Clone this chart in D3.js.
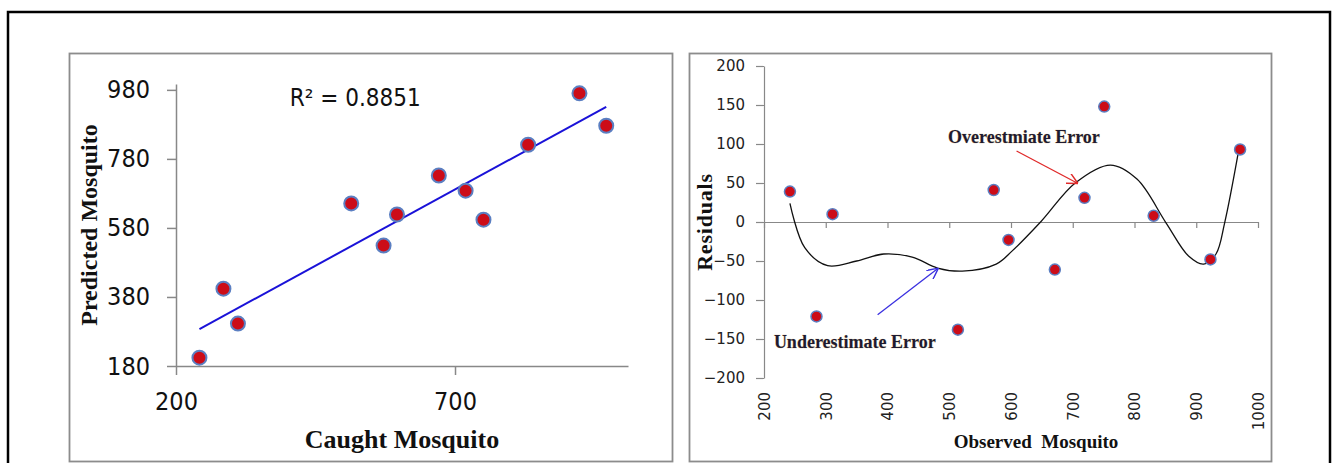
<!DOCTYPE html>
<html>
<head>
<meta charset="utf-8">
<script src="https://cdn.jsdelivr.net/npm/d3@7"></script>
<style>
  body { margin:0; background:#fff; }
  svg { display:block; }
  .axisL text { font-family:"Liberation Sans Narrow","DejaVu Sans Condensed","Liberation Sans",sans-serif; font-size:25px; fill:#111; }
  .axisL path, .axisL line { stroke:#888; stroke-width:1.5; }
  .axisR text { font-family:"DejaVu Sans",Verdana,sans-serif; font-size:15px; fill:#222; }
  .axisR path, .axisR line { stroke:#888; stroke-width:1.2; }
  .title { font-family:"Liberation Serif","Times New Roman",serif; font-weight:bold; fill:#111; }
  .note { font-family:"Liberation Serif","Times New Roman",serif; font-weight:bold; font-size:18px; fill:#1e1a30;
          stroke:rgba(190,140,40,0.45); stroke-width:0.7; paint-order:stroke; }
</style>
</head>
<body>
<script>
// observed (caught) mosquito, model prediction and residual for each site
var observed  = [242, 285, 311, 514, 572, 596, 671, 719, 751, 831, 923, 971];
var predicted = [204, 404, 303, 651, 529, 619, 732, 688, 604, 821, 970, 876];
var residual  = [39, -121, 10, -138, 41, -23, -61, 31, 148, 8, -48, 93];

// smoothed residual trend
var trendX = [242, 266, 303, 350, 394, 440, 481, 521, 576, 602, 649, 704, 761, 804, 851, 888, 912, 932, 946, 969];
var trendY = [24, -33, -56, -50, -41, -45, -59, -63, -54, -37, 1, 50, 73, 55, -1, -44, -54, -41, -1, 93];

var leftXTicks = [200, 700];
var leftYTicks = [180, 380, 580, 780, 980];
var rightXTicks = [200, 300, 400, 500, 600, 700, 800, 900, 1000];
var rightYTicks = [-200, -150, -100, -50, 0, 50, 100, 150, 200];

var W = 1333, H = 463;
var svg = d3.select('body').append('svg')
  .attr('width', W)
  .attr('height', H);

// frames
svg.append('rect').attr('x', 8).attr('y', 12).attr('width', 1322).attr('height', 470)
  .attr('fill', 'none').attr('stroke', '#000').attr('stroke-width', 2.5);
svg.append('rect').attr('x', 69.5).attr('y', 53.5).attr('width', 603).attr('height', 408)
  .attr('fill', 'none').attr('stroke', '#8c8c8c').attr('stroke-width', 1.8);
svg.append('rect').attr('x', 689.5).attr('y', 53.5).attr('width', 582).attr('height', 408)
  .attr('fill', 'none').attr('stroke', '#8c8c8c').attr('stroke-width', 1.8);

// ---------- left: predicted vs caught ----------
var xL = d3.scaleLinear().domain([200, 1010]).range([176, 628]);
var yL = d3.scaleLinear().domain([180, 997]).range([366, 84]);

svg.append('g')
  .attr('class', 'axisL')
  .attr('transform', 'translate(0,' + yL(180) + ')')
  .call(d3.axisBottom(xL).tickValues(leftXTicks).tickSize(9).tickSizeOuter(0).tickPadding(17));

svg.append('g')
  .attr('class', 'axisL')
  .attr('transform', 'translate(' + xL(200) + ',0)')
  .call(d3.axisLeft(yL).tickValues(leftYTicks).tickSize(9).tickSizeOuter(0).tickPadding(17));

// least squares fit of predicted on observed
var mx = d3.mean(observed), my = d3.mean(predicted);
var sxy = d3.sum(observed, function(d, i) { return (d - mx) * (predicted[i] - my); });
var sxx = d3.sum(observed, function(d) { return (d - mx) * (d - mx); });
var slope = sxy / sxx, icept = my - slope * mx;
var fitX = d3.extent(observed);

svg.append('line')
  .attr('x1', xL(fitX[0])).attr('y1', yL(icept + slope * fitX[0]))
  .attr('x2', xL(fitX[1])).attr('y2', yL(icept + slope * fitX[1]))
  .attr('stroke', '#1a12d8').attr('stroke-width', 2);

svg.append('g').selectAll('circle')
  .data(observed)
  .enter()
  .append('circle')
  .attr('cx', function(d) { return xL(d); })
  .attr('cy', function(d, i) { return yL(predicted[i]); })
  .attr('r', 7)
  .attr('fill', '#cc0c18')
  .attr('stroke', '#5b7fc2')
  .attr('stroke-width', 2);

svg.append('text')
  .attr('x', xL(404)).attr('y', yL(933))
  .style('font-family', '"Liberation Sans Narrow","DejaVu Sans Condensed","Liberation Sans",sans-serif')
  .style('font-size', '24px')
  .attr('fill', '#111')
  .text('R² = 0.8851');

svg.append('text')
  .attr('class', 'title')
  .attr('x', 402).attr('y', 448)
  .attr('text-anchor', 'middle')
  .style('font-size', '26px')
  .text('Caught Mosquito');

svg.append('text')
  .attr('class', 'title')
  .attr('transform', 'translate(97,225) rotate(-90)')
  .attr('text-anchor', 'middle')
  .style('font-size', '24px')
  .text('Predicted Mosquito');

// ---------- right: residuals ----------
var xR = d3.scaleLinear().domain([200, 1000]).range([764, 1258]);
var yR = d3.scaleLinear().domain([-200, 200]).range([378, 66]);

svg.append('g')
  .attr('class', 'axisR')
  .attr('transform', 'translate(' + xR(200) + ',0)')
  .call(d3.axisLeft(yR).tickValues(rightYTicks).tickSize(8).tickSizeOuter(0).tickPadding(11)
    .tickFormat(d3.format('')));

var xAxisR = svg.append('g')
  .attr('class', 'axisR')
  .attr('transform', 'translate(0,' + yR(0) + ')')
  .call(d3.axisBottom(xR).tickValues(rightXTicks).tickSize(6).tickSizeOuter(0)
    .tickFormat(d3.format('')));

xAxisR.selectAll('text')
  .attr('x', -(392 - yR(0)))
  .attr('y', 0)
  .attr('dy', '0.35em')
  .attr('text-anchor', 'end')
  .attr('transform', 'rotate(-90)');

var line = d3.line()
  .x(function(d) { return xR(d); })
  .y(function(d, i) { return yR(trendY[i]); })
  .curve(d3.curveCatmullRom.alpha(0.5));

svg.append('path')
  .attr('d', line(trendX))
  .attr('fill', 'none')
  .attr('stroke', '#111')
  .attr('stroke-width', 1.3);

svg.append('g').selectAll('circle')
  .data(observed)
  .enter()
  .append('circle')
  .attr('cx', function(d) { return xR(d); })
  .attr('cy', function(d, i) { return yR(residual[i]); })
  .attr('r', 5.5)
  .attr('fill', '#cc0c18')
  .attr('stroke', '#5b7fc2')
  .attr('stroke-width', 1.5);

// annotation arrows
var defs = svg.append('defs');
[['blue', '#3a30e0'], ['red', '#e02a2a']].forEach(function(m) {
  defs.append('marker')
    .attr('id', 'head-' + m[0])
    .attr('viewBox', '0 0 10 10')
    .attr('refX', 9).attr('refY', 5)
    .attr('markerWidth', 11).attr('markerHeight', 11)
    .attr('markerUnits', 'userSpaceOnUse')
    .attr('orient', 'auto')
    .append('path')
    .attr('d', 'M0,0 L10,5 L0,10')
    .attr('fill', 'none')
    .attr('stroke', m[1])
    .attr('stroke-width', 1.3);
});

svg.append('line')
  .attr('x1', xR(384)).attr('y1', yR(-119))
  .attr('x2', xR(481)).attr('y2', yR(-60))
  .attr('stroke', '#3a30e0').attr('stroke-width', 1.3)
  .attr('marker-end', 'url(#head-blue)');

svg.append('line')
  .attr('x1', xR(609)).attr('y1', yR(91))
  .attr('x2', xR(707)).attr('y2', yR(50))
  .attr('stroke', '#e02a2a').attr('stroke-width', 1.3)
  .attr('marker-end', 'url(#head-red)');

svg.append('text')
  .attr('class', 'note')
  .attr('x', xR(621)).attr('y', yR(101))
  .attr('text-anchor', 'middle')
  .text('Overestmiate Error');

svg.append('text')
  .attr('class', 'note')
  .attr('x', xR(216)).attr('y', yR(-161))
  .text('Underestimate Error');

svg.append('text')
  .attr('class', 'title')
  .attr('transform', 'translate(712,222) rotate(-90)')
  .attr('text-anchor', 'middle')
  .style('font-size', '22px')
  .style('letter-spacing', '0.8px')
  .text('Residuals');

svg.append('text')
  .attr('class', 'title')
  .attr('x', 1036).attr('y', 448)
  .attr('text-anchor', 'middle')
  .style('font-size', '19px')
  .style('white-space', 'pre')
  .text('Observed  Mosquito');
</script>
</body>
</html>
